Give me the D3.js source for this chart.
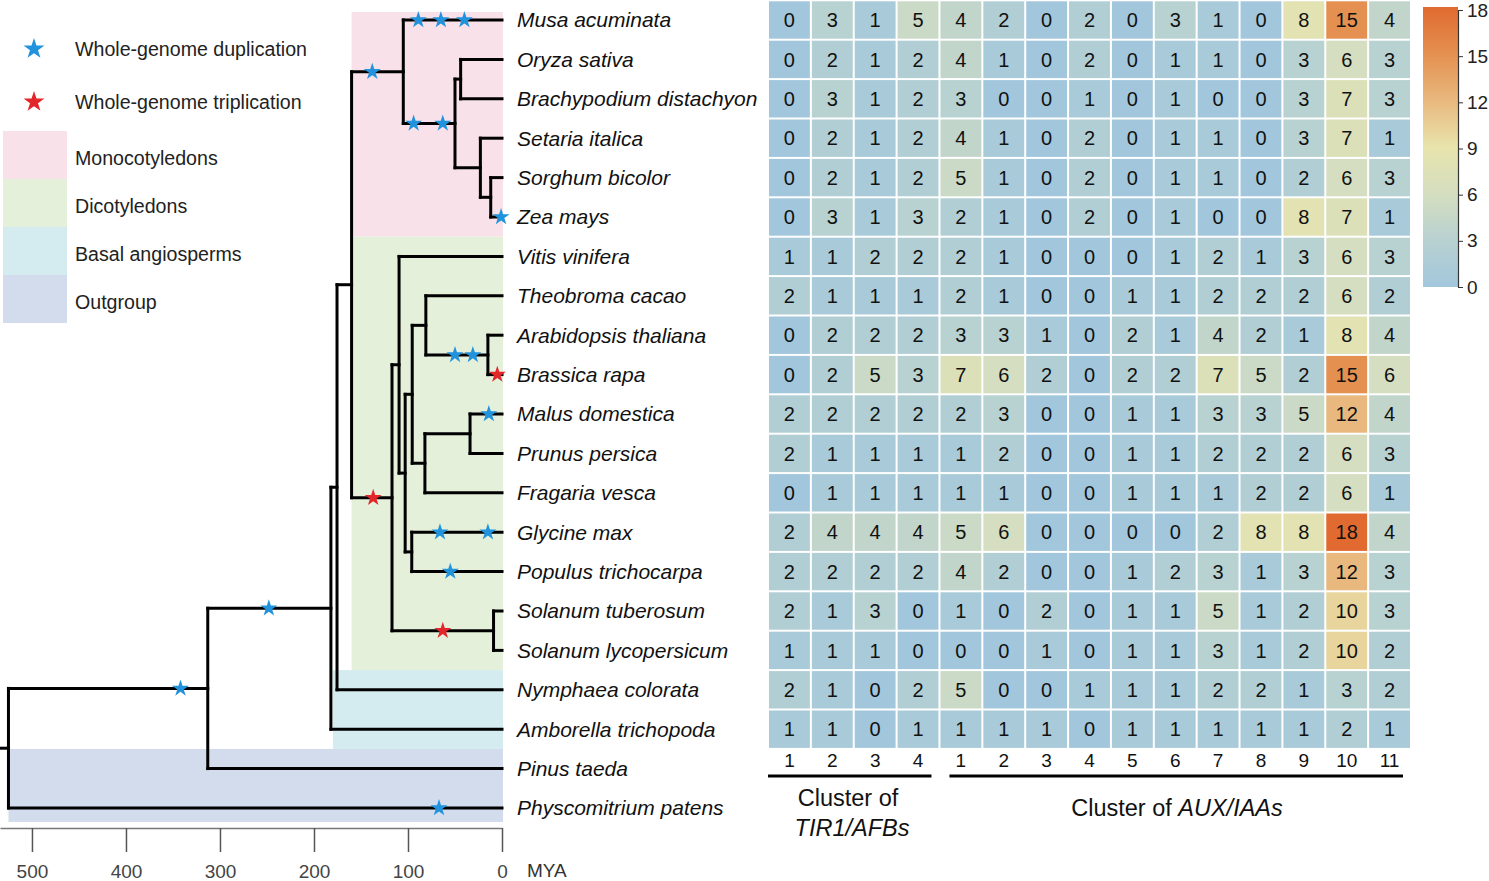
<!DOCTYPE html>
<html lang="en">
<head>
  <meta charset="UTF-8">
  <title>WGD events and TIR1/AFB, AUX/IAA counts</title>
  <script src="https://d3js.org/d3.v7.min.js"></script>
  <style>
    body { margin: 0; background: #fff; }
    text { font-family: "Liberation Sans", Arial, sans-serif; }
  </style>
</head>
<body>
  <svg width="1489" height="881"></svg>

  <script>
    // species, top to bottom (tree tips)
    const species = [
      'Musa acuminata', 'Oryza sativa', 'Brachypodium distachyon', 'Setaria italica',
      'Sorghum bicolor', 'Zea mays', 'Vitis vinifera', 'Theobroma cacao',
      'Arabidopsis thaliana', 'Brassica rapa', 'Malus domestica', 'Prunus persica',
      'Fragaria vesca', 'Glycine max', 'Populus trichocarpa', 'Solanum tuberosum',
      'Solanum lycopersicum', 'Nymphaea colorata', 'Amborella trichopoda',
      'Pinus taeda', 'Physcomitrium patens'
    ];

    // gene counts per species (first 19 species), TIR1/AFB 1-4 then AUX/IAA 1-11
    const counts = [
      [0, 3, 1, 5, 4, 2, 0, 2, 0, 3, 1, 0, 8, 15, 4],
      [0, 2, 1, 2, 4, 1, 0, 2, 0, 1, 1, 0, 3, 6, 3],
      [0, 3, 1, 2, 3, 0, 0, 1, 0, 1, 0, 0, 3, 7, 3],
      [0, 2, 1, 2, 4, 1, 0, 2, 0, 1, 1, 0, 3, 7, 1],
      [0, 2, 1, 2, 5, 1, 0, 2, 0, 1, 1, 0, 2, 6, 3],
      [0, 3, 1, 3, 2, 1, 0, 2, 0, 1, 0, 0, 8, 7, 1],
      [1, 1, 2, 2, 2, 1, 0, 0, 0, 1, 2, 1, 3, 6, 3],
      [2, 1, 1, 1, 2, 1, 0, 0, 1, 1, 2, 2, 2, 6, 2],
      [0, 2, 2, 2, 3, 3, 1, 0, 2, 1, 4, 2, 1, 8, 4],
      [0, 2, 5, 3, 7, 6, 2, 0, 2, 2, 7, 5, 2, 15, 6],
      [2, 2, 2, 2, 2, 3, 0, 0, 1, 1, 3, 3, 5, 12, 4],
      [2, 1, 1, 1, 1, 2, 0, 0, 1, 1, 2, 2, 2, 6, 3],
      [0, 1, 1, 1, 1, 1, 0, 0, 1, 1, 1, 2, 2, 6, 1],
      [2, 4, 4, 4, 5, 6, 0, 0, 0, 0, 2, 8, 8, 18, 4],
      [2, 2, 2, 2, 4, 2, 0, 0, 1, 2, 3, 1, 3, 12, 3],
      [2, 1, 3, 0, 1, 0, 2, 0, 1, 1, 5, 1, 2, 10, 3],
      [1, 1, 1, 0, 0, 0, 1, 0, 1, 1, 3, 1, 2, 10, 2],
      [2, 1, 0, 2, 5, 0, 0, 1, 1, 1, 2, 2, 1, 3, 2],
      [1, 1, 0, 1, 1, 1, 1, 0, 1, 1, 1, 1, 1, 2, 1]
    ];

    const colLabels = ['1', '2', '3', '4', '1', '2', '3', '4', '5', '6', '7', '8', '9', '10', '11'];
    const clusters = [
      { first: 0, last: 3 },
      { first: 4, last: 14 }
    ];

    // internal nodes: [id, parent, age in MYA]
    const treeNodes = [
      ['root', null, 525],
      ['seed', 'root', 313],
      ['angio', 'seed', 182],
      ['nymMeso', 'angio', 175.5],
      ['meso', 'nymMeso', 160],
      ['mono', 'meso', 105],
      ['grass', 'mono', 50],
      ['bop', 'grass', 44],
      ['pan', 'grass', 23],
      ['sorZea', 'pan', 12],
      ['eud', 'meso', 117],
      ['core', 'eud', 109.5],
      ['ros', 'core', 103],
      ['malv', 'ros', 95.5],
      ['theoBra', 'malv', 81],
      ['brass', 'theoBra', 15],
      ['rosac', 'malv', 82],
      ['malPru', 'rosac', 34],
      ['fab', 'ros', 96],
      ['sol', 'eud', 9]
    ];
    // parent of each tip, same order as species
    const tipParents = [
      'mono', 'bop', 'bop', 'pan', 'sorZea', 'sorZea', 'core', 'theoBra', 'brass', 'brass',
      'malPru', 'malPru', 'rosac', 'fab', 'fab', 'sol', 'sol', 'nymMeso', 'angio', 'seed', 'root'
    ];

    // polyploidy events on the branch leading to a node/tip: [id, age]
    const wgd = [
      ['Musa acuminata', 89], ['Musa acuminata', 65], ['Musa acuminata', 40],
      ['mono', 138], ['grass', 94], ['grass', 63], ['Zea mays', 1],
      ['brass', 50], ['brass', 31], ['Malus domestica', 14],
      ['Glycine max', 66], ['Glycine max', 15], ['Populus trichocarpa', 55],
      ['angio', 248], ['seed', 342], ['Physcomitrium patens', 67]
    ];
    const wgt = [['eud', 137], ['Brassica rapa', 5], ['sol', 63]];

    const clades = [
      { name: 'Monocotyledons', color: '#f9e1e9', first: 0, last: 5, node: 'meso' },
      { name: 'Dicotyledons', color: '#e4f0da', first: 6, last: 16, node: 'meso' },
      { name: 'Basal angiosperms', color: '#d4ecf0', first: 17, last: 18, node: 'angio' },
      { name: 'Outgroup', color: '#d3dcec', first: 19, last: 20, node: 'root' }
    ];

    const timeTicks = [500, 400, 300, 200, 100, 0];
    const colorTicks = [0, 3, 6, 9, 12, 15, 18];
    const colorStops = [0, 3, 6, 9, 12, 15, 18];
    const colorRange = ['#a2c7dc', '#b8d1d1', '#d5dec0', '#e8e4ac', '#e9b87e', '#e49050', '#e06a30'];

    const BLUE = '#2193dc', RED = '#e3262a';

    const svg = d3.select('svg');

    // scales
    const x = d3.scaleLinear().domain([0, 534]).range([502, 0]);
    const y = d3.scaleLinear().domain([0, 20]).range([20, 808]);
    const step = y(1) - y(0);
    const color = d3.scaleLinear().domain(colorStops).range(colorRange);

    // build tree
    const nodes = new Map();
    treeNodes.forEach(([id, parent, age]) => nodes.set(id, { id, parent, age, children: [] }));
    species.forEach((s, i) => nodes.set(s, { id: s, parent: tipParents[i], age: 0, children: [], tip: i }));
    nodes.forEach(n => { if (n.parent) nodes.get(n.parent).children.push(n); });
    function setY(n) {
      if (n.tip !== undefined) { n.y = y(n.tip); return n.y; }
      n.y = d3.mean(n.children.map(setY));
      return n.y;
    }
    const root = nodes.get('root');
    setY(root);

    // clade backgrounds
    const cladeTop = d => d.first === 0 ? y(0) - 8 : y(d.first - 0.5);
    const cladeBottom = d => d.last === 20 ? y(20) + 14 : y(d.last + 0.5);
    const cladeLeft = d => x(nodes.get(d.node).age) + (d.node === 'angio' ? 2 : 0);
    svg.selectAll('.clade')
      .data(clades)
      .enter().append('rect')
      .attr('x', cladeLeft)
      .attr('y', cladeTop)
      .attr('width', d => x(0) + 1 - cladeLeft(d))
      .attr('height', d => cladeBottom(d) - cladeTop(d))
      .attr('fill', d => d.color);

    // branches
    const all = Array.from(nodes.values());
    const tree = svg.append('g')
      .attr('fill', 'none')
      .attr('stroke', '#000')
      .attr('stroke-width', 3)
      .attr('stroke-linecap', 'square');
    tree.selectAll('.h')
      .data(all)
      .enter().append('line')
      .attr('x1', d => d.parent ? x(nodes.get(d.parent).age) : 0)
      .attr('x2', d => x(d.age))
      .attr('y1', d => d.y)
      .attr('y2', d => d.y);
    tree.selectAll('.v')
      .data(all.filter(d => d.children.length))
      .enter().append('line')
      .attr('x1', d => x(d.age))
      .attr('x2', d => x(d.age))
      .attr('y1', d => d3.min(d.children, c => c.y))
      .attr('y2', d => d3.max(d.children, c => c.y));

    // stars
    const star = d3.symbol().type(d3.symbolStar);
    const events = wgd.map(d => ({ id: d[0], age: d[1], c: BLUE }))
      .concat(wgt.map(d => ({ id: d[0], age: d[1], c: RED })));
    svg.selectAll('.ev')
      .data(events)
      .enter().append('path')
      .attr('d', star.size(90)())
      .attr('transform', d => `translate(${x(d.age)},${nodes.get(d.id).y})`)
      .attr('fill', d => d.c);

    // species labels
    svg.selectAll('.sp')
      .data(species)
      .enter().append('text')
      .attr('x', 517)
      .attr('y', (d, i) => y(i))
      .attr('dy', '0.35em')
      .attr('font-size', 21)
      .attr('font-style', 'italic')
      .attr('fill', '#111')
      .text(d => d);

    // time axis
    const axis = svg.append('g')
      .attr('transform', 'translate(0,828)')
      .call(d3.axisBottom(x).tickValues(timeTicks).tickSize(24).tickSizeOuter(0).tickPadding(13));
    axis.select('.domain').attr('stroke', '#777').attr('stroke-width', 1.5);
    axis.selectAll('.tick line').attr('stroke', '#555').attr('stroke-width', 1.5);
    axis.selectAll('.tick text').attr('font-size', 19).attr('fill', '#444')
      .style('font-family', '"Liberation Sans", Arial, sans-serif');
    svg.append('text')
      .attr('x', 527).attr('y', 877)
      .attr('font-size', 19).attr('fill', '#333')
      .text('MYA');

    // legend
    const legStars = [
      { label: 'Whole-genome duplication', c: BLUE, y: 49 },
      { label: 'Whole-genome triplication', c: RED, y: 102 }
    ];
    svg.selectAll('.ls')
      .data(legStars)
      .enter().append('path')
      .attr('d', star.size(135)())
      .attr('transform', d => `translate(34,${d.y})`)
      .attr('fill', d => d.c);
    svg.selectAll('.lst')
      .data(legStars)
      .enter().append('text')
      .attr('x', 75).attr('y', d => d.y)
      .attr('dy', '0.35em')
      .attr('font-size', 19.6).attr('fill', '#222')
      .text(d => d.label);

    const boxH = 48;
    svg.selectAll('.lb')
      .data(clades)
      .enter().append('rect')
      .attr('x', 3).attr('y', (d, i) => 131 + i * boxH)
      .attr('width', 64).attr('height', boxH)
      .attr('fill', d => d.color);
    svg.selectAll('.lbt')
      .data(clades)
      .enter().append('text')
      .attr('x', 75).attr('y', (d, i) => 131 + i * boxH + boxH / 2 + 3)
      .attr('dy', '0.35em')
      .attr('font-size', 19.6).attr('fill', '#222')
      .text(d => d.name);

    // heatmap
    const xc = d3.scaleBand().domain(d3.range(colLabels.length)).range([768, 1411]);
    const cells = [];
    counts.forEach((row, r) => row.forEach((v, c) => cells.push({ r, c, v })));
    svg.selectAll('.cell')
      .data(cells)
      .enter().append('rect')
      .attr('x', d => xc(d.c) + 1)
      .attr('y', d => y(d.r) - step / 2 + 1)
      .attr('width', xc.bandwidth() - 2)
      .attr('height', step - 2)
      .attr('fill', d => color(d.v));
    svg.selectAll('.cellt')
      .data(cells)
      .enter().append('text')
      .attr('x', d => xc(d.c) + xc.bandwidth() / 2)
      .attr('y', d => y(d.r))
      .attr('dy', '0.36em')
      .attr('text-anchor', 'middle')
      .attr('font-size', 20)
      .attr('fill', '#111')
      .text(d => d.v);

    // column labels
    svg.selectAll('.cl')
      .data(colLabels)
      .enter().append('text')
      .attr('x', (d, i) => xc(i) + xc.bandwidth() / 2)
      .attr('y', 760)
      .attr('dy', '0.35em')
      .attr('text-anchor', 'middle')
      .attr('font-size', 19)
      .attr('fill', '#111')
      .text(d => d);

    // cluster brackets
    svg.selectAll('.br')
      .data(clusters)
      .enter().append('line')
      .attr('x1', d => xc(d.first) + (d.first === 0 ? 0 : 10))
      .attr('x2', d => xc(d.last) + xc.bandwidth() - 8)
      .attr('y1', 776).attr('y2', 776)
      .attr('stroke', '#000').attr('stroke-width', 3);

    const t1 = svg.append('text')
      .attr('x', 848).attr('text-anchor', 'middle')
      .attr('font-size', 23.5).attr('fill', '#111');
    t1.append('tspan').attr('x', 848).attr('y', 806).text('Cluster of');
    t1.append('tspan').attr('x', 852).attr('y', 836).attr('font-style', 'italic').text('TIR1/AFBs');

    const t2 = svg.append('text')
      .attr('x', 1177).attr('y', 816).attr('text-anchor', 'middle')
      .attr('font-size', 23.5).attr('fill', '#111');
    t2.append('tspan').text('Cluster of ');
    t2.append('tspan').attr('font-style', 'italic').text('AUX/IAAs');

    // colour bar
    const cb = d3.scaleLinear().domain([0, 18]).range([287, 10]);
    const grad = svg.append('defs').append('linearGradient')
      .attr('id', 'cbar').attr('x1', 0).attr('y1', 1).attr('x2', 0).attr('y2', 0);
    grad.selectAll('stop')
      .data(colorStops)
      .enter().append('stop')
      .attr('offset', d => d / 18)
      .attr('stop-color', d => color(d));
    svg.append('rect')
      .attr('x', 1423).attr('y', cb(18) - 3)
      .attr('width', 35).attr('height', cb(0) - cb(18) + 3)
      .attr('fill', 'url(#cbar)');
    const cax = svg.append('g')
      .attr('transform', 'translate(1458,0)')
      .call(d3.axisRight(cb).tickValues(colorTicks).tickSize(5).tickSizeOuter(5).tickPadding(4));
    cax.select('.domain').attr('stroke', '#333').attr('stroke-width', 1.2);
    cax.selectAll('.tick line').attr('stroke', '#333');
    cax.selectAll('.tick text').attr('font-size', 19).attr('fill', '#222')
      .style('font-family', '"Liberation Sans", Arial, sans-serif');
  </script>
</body>
</html>
